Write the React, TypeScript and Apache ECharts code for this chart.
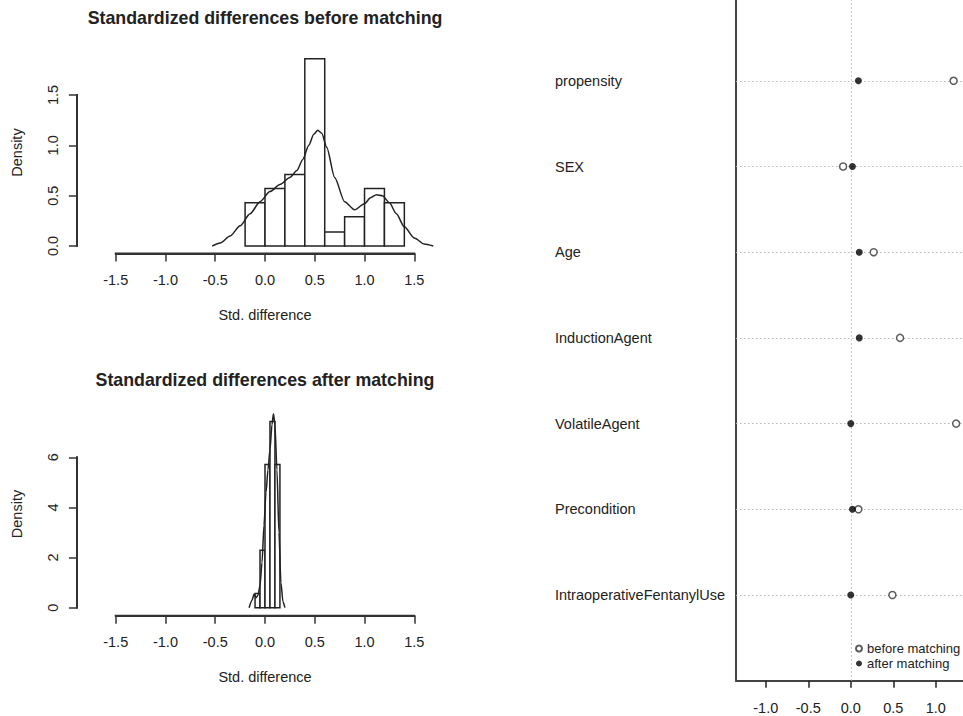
import React, { useEffect, useRef } from "react";
import * as echarts from "echarts";

// ---------- data ----------
const histTicksX = [-1.5, -1.0, -0.5, 0, 0.5, 1.0, 1.5];
const beforeTicksY = [0, 0.5, 1.0, 1.5];
const afterTicksY = [0, 2, 4, 6];

const beforeBinEdges = [-0.2, 0, 0.2, 0.4, 0.6, 0.8, 1.0, 1.2, 1.4];
const beforeDensity = [0.43, 0.57, 0.71, 1.86, 0.14, 0.29, 0.57, 0.43];
const beforeCurveX = [-0.53, -0.45, -0.35, -0.25, -0.15, -0.05, 0.05, 0.15, 0.25, 0.32, 0.38, 0.44, 0.49, 0.53, 0.57, 0.62, 0.7, 0.8, 0.9, 1.0, 1.06, 1.12, 1.18, 1.25, 1.32, 1.4, 1.5, 1.6, 1.69];
const beforeCurveY = [0.0, 0.03, 0.1, 0.2, 0.32, 0.44, 0.54, 0.61, 0.68, 0.75, 0.86, 1.0, 1.11, 1.15, 1.12, 0.98, 0.68, 0.44, 0.36, 0.42, 0.48, 0.51, 0.5, 0.43, 0.32, 0.19, 0.08, 0.02, 0.0];

const afterBinEdges = [-0.1, -0.05, 0, 0.05, 0.1, 0.15];
const afterDensity = [0.57, 2.29, 5.71, 7.43, 5.71];
const afterCurveX = [-0.16, -0.13, -0.11, -0.09, -0.07, -0.05, -0.03, -0.01, 0.01, 0.03, 0.05, 0.07, 0.085, 0.1, 0.12, 0.14, 0.16, 0.18, 0.2];
const afterCurveY = [0, 0.3, 0.55, 0.4, 0.5, 0.9, 1.8, 3.3, 4.6, 5.5, 6.3, 7.3, 7.74, 7.3, 5.5, 3.0, 1.0, 0.25, 0];

const covariates = ["propensity", "SEX", "Age", "InductionAgent", "VolatileAgent", "Precondition", "IntraoperativeFentanylUse"];
const beforeMatching = [1.21, -0.09, 0.27, 0.58, 1.24, 0.09, 0.49];
const afterMatching = [0.09, 0.02, 0.10, 0.10, 0.0, 0.02, 0.0];
const dotTicksX = [-1.0, -0.5, 0, 0.5, 1.0];

const titles = ["Standardized differences before matching", "Standardized differences after matching"];

// ---------- styles / layout ----------
const FONT = '"Liberation Sans", Arial, Helvetica, sans-serif';
const INK = "#222";
const AXC = "#333";
const AX_FS = 14.5;
const OY = 20;

const HX_MIN = -1.89, HX_MAX = 1.89;
const B_YMIN = -0.074, B_YMAX = 1.93;
const A_YMIN = -0.32, A_YMAX = 8.32;
const D_XMIN = -1.35, D_XMAX = 1.35;
const D_YMIN = 0, D_YMAX = covariates.length + 1;

const X0 = 265, XS = 99.53;
const B_Y0 = 246, B_YS = 100.7;
const A_Y0 = 607.7, A_YS = 25.07;

const last = (a: number[]) => a[a.length - 1];
const axisText = { fontSize: AX_FS, fontFamily: FONT, color: INK };

function histSeries(edges: number[], dens: number[], gi: number) {
  return {
    type: "custom",
    xAxisIndex: gi,
    yAxisIndex: gi,
    silent: true,
    data: dens.map((d, i) => [edges[i], edges[i + 1], d]),
    encode: { x: [0, 1], y: 2 },
    renderItem: (_p: any, api: any) => {
      const a = api.coord([api.value(0), api.value(2)]);
      const b = api.coord([api.value(1), 0]);
      return {
        type: "rect",
        shape: { x: a[0], y: a[1], width: b[0] - a[0], height: b[1] - a[1] },
        style: { fill: "#fff", stroke: INK, lineWidth: 1.5 },
      };
    },
  };
}

function curveSeries(xs: number[], ys: number[], gi: number) {
  return {
    type: "line",
    xAxisIndex: gi,
    yAxisIndex: gi,
    silent: true,
    symbol: "none",
    smooth: 0.25,
    smoothMonotone: "x",
    data: xs.map((x, i) => [x, ys[i]]),
    lineStyle: { color: INK, width: 1.5 },
  };
}

const mainAxis = (gi: number, min: number, max: number) => ({
  type: "value", gridIndex: gi, min, max, show: false,
  axisLine: { show: false, onZero: false }, axisTick: { show: false }, axisLabel: { show: false }, splitLine: { show: false },
});
function tickXAxis(gi: number) {
  return {
    type: "value", gridIndex: gi, min: histTicksX[0], max: last(histTicksX), interval: 0.5, position: "bottom", z: 10,
    axisLine: { show: true, onZero: false, lineStyle: { color: AXC, width: 2 } },
    splitLine: { show: false },
    axisTick: { show: true, length: 8, lineStyle: { color: AXC, width: 1.5 } },
    axisLabel: { formatter: (v: number) => v.toFixed(1), margin: 19, ...axisText },
    name: "Std. difference", nameLocation: "middle", nameGap: 54, nameTextStyle: axisText,
  };
}
function tickYAxis(gi: number, ticks: number[], digits: number) {
  return {
    type: "value", gridIndex: gi, min: ticks[0], max: last(ticks), interval: ticks[1] - ticks[0], position: "left", z: 10,
    axisLine: { show: true, onZero: false, lineStyle: { color: AXC, width: 2 } },
    splitLine: { show: false },
    axisTick: { show: true, length: 8, lineStyle: { color: AXC, width: 1.5 } },
    axisLabel: { formatter: (v: number) => v.toFixed(digits), rotate: 90, margin: 16, ...axisText },
  };
}
const hiddenAxis = (gi: number) => ({
  type: "value", gridIndex: gi, min: 0, max: 1, show: false, axisLine: { show: false, onZero: false },
});

export default function App() {
  const ref = useRef<HTMLDivElement>(null);

  useEffect(() => {
    if (!ref.current) return;
    const chart = echarts.init(ref.current, undefined, { renderer: "svg" });
    const n = covariates.length;
    const rowVals = covariates.map((_, i) => n - i);

    const mainLeft = X0 + HX_MIN * XS;
    const mainWidth = (HX_MAX - HX_MIN) * XS;
    const tickLeft = X0 + histTicksX[0] * XS;
    const tickWidth = (last(histTicksX) - histTicksX[0]) * XS;
    const bTop = B_Y0 - B_YMAX * B_YS + OY, bH = (B_YMAX - B_YMIN) * B_YS;
    const aTop = A_Y0 - A_YMAX * A_YS + OY, aH = (A_YMAX - A_YMIN) * A_YS;
    const bYTop = B_Y0 - last(beforeTicksY) * B_YS + OY, bYH = last(beforeTicksY) * B_YS;
    const aYTop = A_Y0 - last(afterTicksY) * A_YS + OY, aYH = last(afterTicksY) * A_YS;

    const titleFont = `bold 17.8px ${FONT}`;
    const labFont = `${AX_FS}px ${FONT}`;
    const LW = 1.8;
    // axis-line strokes along the edges of the tick grids (filled bars, drawn on top)
    const hBar = (x: number, y: number, w: number) => ({
      type: "rect", z: 100, silent: true,
      shape: { x: x - LW / 2, y: y - LW / 2, width: w + LW, height: LW },
      style: { fill: AXC },
    });
    const vBar = (x: number, y: number, h: number) => ({
      type: "rect", z: 100, silent: true,
      shape: { x: x - LW / 2, y: y - LW / 2, width: LW, height: h + LW },
      style: { fill: AXC },
    });

    const option: any = {
      animation: false,
      backgroundColor: "#fff",
      textStyle: { fontFamily: FONT },
      grid: [
        { left: mainLeft, width: mainWidth, top: bTop, height: bH },
        { left: tickLeft, width: tickWidth, top: bTop, height: bH },
        { left: mainLeft, width: mainWidth, top: bYTop, height: bYH },
        { left: mainLeft, width: mainWidth, top: aTop, height: aH },
        { left: tickLeft, width: tickWidth, top: aTop, height: aH },
        { left: mainLeft, width: mainWidth, top: aYTop, height: aYH },
        { left: 736, top: -4.9 + OY, width: 229.5, height: 685.6 },
      ],
      xAxis: [
        mainAxis(0, HX_MIN, HX_MAX),
        tickXAxis(1),
        hiddenAxis(2),
        mainAxis(3, HX_MIN, HX_MAX),
        tickXAxis(4),
        hiddenAxis(5),
        {
          type: "value", gridIndex: 6, min: D_XMIN, max: D_XMAX, position: "bottom",
          axisLine: { show: true, onZero: false, lineStyle: { color: "#444", width: 2 } },
          splitLine: { show: false },
          axisTick: { show: true, customValues: dotTicksX, length: 7, lineStyle: { color: INK, width: 1.5 } },
          axisLabel: { customValues: dotTicksX, formatter: (v: number) => v.toFixed(1), margin: 20, ...axisText },
        },
      ],
      yAxis: [
        mainAxis(0, B_YMIN, B_YMAX),
        hiddenAxis(1),
        tickYAxis(2, beforeTicksY, 1),
        mainAxis(3, A_YMIN, A_YMAX),
        hiddenAxis(4),
        tickYAxis(5, afterTicksY, 0),
        {
          type: "value", gridIndex: 6, min: D_YMIN, max: D_YMAX, position: "left",
          axisLine: { show: true, onZero: false, lineStyle: { color: "#444", width: 2 } },
          splitLine: { show: false },
          axisTick: { show: false },
          axisLabel: {
            customValues: rowVals,
            formatter: (v: number) => covariates[n - v] ?? "",
            align: "left",
            margin: 181,
            ...axisText,
          },
        },
      ],
      legend: {
        data: ["before matching", "after matching"],
        orient: "vertical",
        left: 855,
        top: 642 + OY,
        padding: 0,
        itemWidth: 6,
        itemHeight: 6,
        itemGap: 2,
        selectedMode: false,
        textStyle: { fontSize: 13, fontFamily: FONT, color: INK },
      },
      graphic: [
        { type: "text", x: X0, y: 18 + OY, style: { text: titles[0], align: "center", verticalAlign: "middle", font: titleFont, fill: INK } },
        { type: "text", x: X0, y: 380 + OY, style: { text: titles[1], align: "center", verticalAlign: "middle", font: titleFont, fill: INK } },
        { type: "text", x: 17, y: bTop + bH / 2, rotation: Math.PI / 2, style: { text: "Density", align: "center", verticalAlign: "middle", font: labFont, fill: INK } },
        { type: "text", x: 17, y: 514 + OY, rotation: Math.PI / 2, style: { text: "Density", align: "center", verticalAlign: "middle", font: labFont, fill: INK } },
        hBar(tickLeft, bTop + bH, tickWidth),
        vBar(mainLeft, bYTop, bYH),
        hBar(tickLeft, aTop + aH, tickWidth),
        vBar(mainLeft, aYTop, aYH),
      ],
      series: [
        histSeries(beforeBinEdges, beforeDensity, 0),
        curveSeries(beforeCurveX, beforeCurveY, 0),
        histSeries(afterBinEdges, afterDensity, 3),
        curveSeries(afterCurveX, afterCurveY, 3),
        {
          type: "scatter", name: "_grid", xAxisIndex: 6, yAxisIndex: 6, data: [], silent: true, z: 1,
          markLine: {
            silent: true, z: 1, symbol: ["none", "none"], label: { show: false },
            lineStyle: { color: "#b8b8b8", width: 1, type: [1.5, 2.5] },
            data: [...rowVals.map((v) => ({ yAxis: v })), { xAxis: 0 }],
          },
        },
        {
          type: "scatter", name: "before matching", xAxisIndex: 6, yAxisIndex: 6,
          symbol: "circle", symbolSize: 7, silent: true, z: 3,
          itemStyle: { color: "#fff", borderColor: "#333", borderWidth: 1.5 },
          data: beforeMatching.map((v, i) => [v, rowVals[i]]),
        },
        {
          type: "scatter", name: "after matching", xAxisIndex: 6, yAxisIndex: 6,
          symbol: "circle", symbolSize: 7, silent: true, z: 3,
          itemStyle: { color: "#000" },
          data: afterMatching.map((v, i) => [v, rowVals[i]]),
        },
      ],
    };

    chart.setOption(option);
    return () => chart.dispose();
  }, []);

  return (
    <div
      ref={ref}
      style={{ position: "fixed", left: 0, top: -OY, width: 1000, height: 716 + OY, background: "#fff" }}
    />
  );
}
